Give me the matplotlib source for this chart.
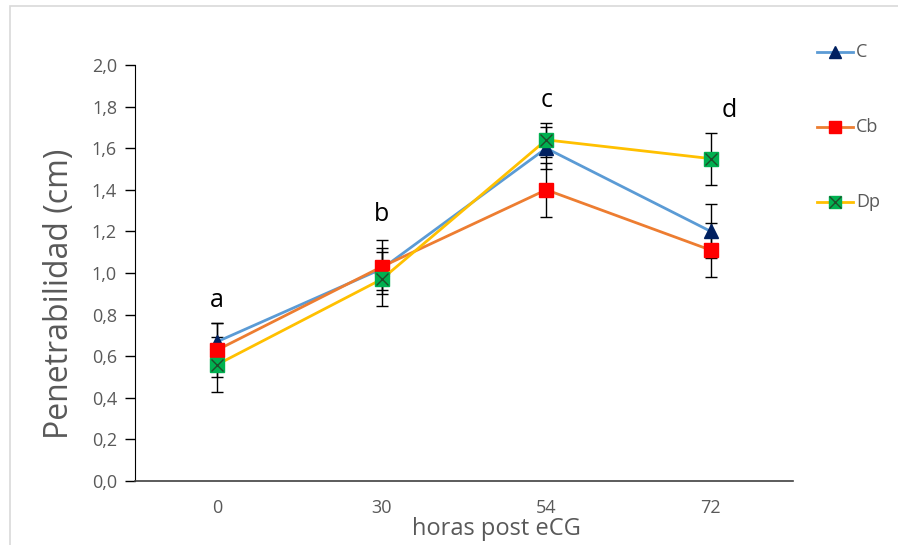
import numpy as np
import matplotlib.pyplot as plt
from matplotlib.lines import Line2D
from matplotlib.patches import Rectangle

plt.rcParams['font.family'] = ['Open Sans', 'DejaVu Sans']

# data
horas = ['0', '30', '54', '72']
series = ['C', 'Cb', 'Dp']
c_vals = [0.67, 1.02, 1.60, 1.20]
c_err = [0.09, 0.10, 0.10, 0.13]
cb_vals = [0.63, 1.03, 1.40, 1.11]
cb_err = [0.13, 0.13, 0.13, 0.13]
dp_vals = [0.56, 0.97, 1.64, 1.55]
dp_err = [0.13, 0.13, 0.08, 0.125]
letras = ['a', 'b', 'c', 'd']
letra_y = [0.87, 1.28, 1.83, 1.78]

gray = '#595959'
fig = plt.figure(figsize=(8.98, 5.45), dpi=100)
# light frame like the excel chart area
fig.add_artist(Rectangle((10 / 898, -0.1), 1.2, 1 - 6 / 545 + 0.1, transform=fig.transFigure,
                         fill=False, edgecolor='#d9d9d9', linewidth=1.2))
ax = fig.add_axes([135 / 898, 64 / 545, 658 / 898, 416 / 545])

x = np.arange(len(horas))
styles = [
    dict(color='#5B9BD5', marker='^', mfc='#002060', mec='#002060', ms=10),
    dict(color='#ED7D31', marker='s', mfc='#FF0000', mec='#FF0000', ms=10),
    dict(color='#FFC000', marker='s', mfc='#00B050', mec='#00B050', ms=10),
]
vals = [c_vals, cb_vals, dp_vals]
errs = [c_err, cb_err, dp_err]

for v, e in zip(vals, errs):
    ax.errorbar(x, v, yerr=e, fmt='none', ecolor='black', elinewidth=1, capsize=4, capthick=1, zorder=2)
for i, (v, st) in enumerate(zip(vals, styles)):
    ax.plot(x, v, lw=2, zorder=3 + i, **st)
ax.plot(x, dp_vals, ls='none', marker='x', color='#1e4d2b', ms=9, mew=1, zorder=6)

for xi, l, ly in zip(x, letras, letra_y):
    ax.text(xi + (0.11 if l == 'd' else 0), ly, l, fontsize=18, ha='center', va='center', color='black')

ax.set_xlim(-0.5, 3.5)
ax.set_ylim(0, 2.0)
ax.set_xticks(x)
ax.set_xticklabels(horas)
yt = np.arange(0, 2.01, 0.2)
ax.set_yticks(yt)
ax.set_yticklabels([f'{t:.1f}'.replace('.', ',') for t in yt])
ax.tick_params(axis='x', length=0, labelsize=13, colors=gray, pad=13)
ax.tick_params(axis='y', direction='out', length=7, width=1, labelsize=13, colors=gray, pad=6)
ax.tick_params(axis='y', color='black')
for s in ['top', 'right']:
    ax.spines[s].set_visible(False)
ax.spines['left'].set_color('black')
ax.spines['bottom'].set_color('#404040')
ax.spines['bottom'].set_linewidth(1.2)
ax.set_ylabel('Penetrabilidad (cm)', fontsize=23, color=gray)
ax.yaxis.set_label_coords(-0.09, 0.45)
ax.set_xlabel('horas post eCG', fontsize=17, color=gray)
ax.xaxis.set_label_coords(0.549, -0.086)

# legend drawn at the right side
leg_y = [52, 127, 202]
for name, st, ly in zip(series, styles, leg_y):
    yy = 1 - ly / 545
    fig.add_artist(Line2D([817 / 898, 853 / 898], [yy, yy], transform=fig.transFigure,
                          color=st['color'], lw=2))
    fig.add_artist(Line2D([835 / 898], [yy], transform=fig.transFigure, marker=st['marker'],
                          mfc=st['mfc'], mec=st['mec'], ms=9, ls='none'))
    if name == 'Dp':
        fig.add_artist(Line2D([835 / 898], [yy], transform=fig.transFigure, marker='x',
                              color='#1e4d2b', ms=8, mew=1, ls='none'))
    fig.text(856 / 898, yy, name, fontsize=13, color=gray, va='center', ha='left')

fig.savefig('out.png', dpi=100)
